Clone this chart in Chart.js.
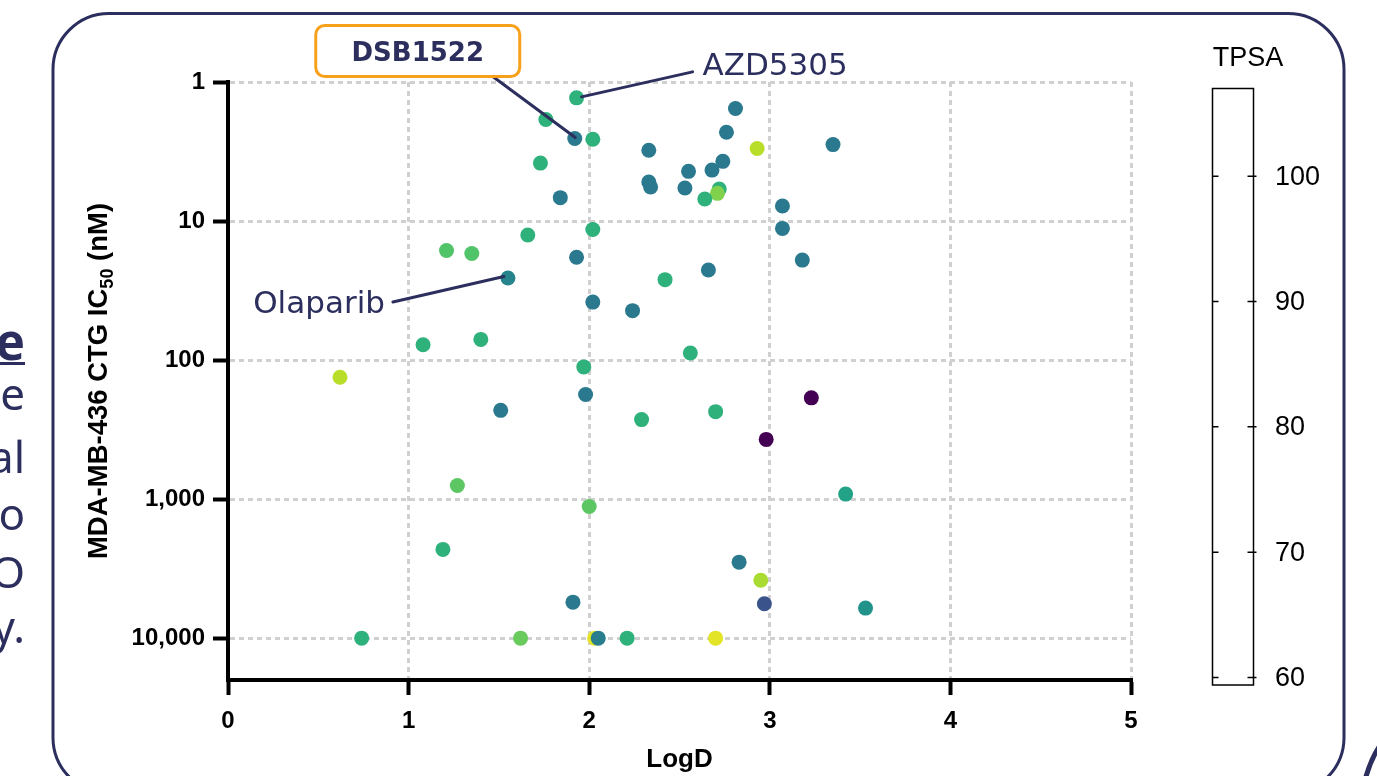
<!DOCTYPE html>
<html>
<head>
<meta charset="utf-8">
<script src="https://cdn.jsdelivr.net/npm/chart.js@4.4.1/dist/chart.umd.min.js"></script>
<style>
  html, body { margin: 0; padding: 0; background: #fff; }
  #wrap { position: relative; width: 1377px; height: 776px; overflow: hidden; }
  #chart { position: absolute; left: 0; top: 0; }
  .side { position: absolute; right: 1352px; white-space: nowrap; color: #2c2f5e;
          font-family: "Noto Sans", sans-serif; font-size: 44px; line-height: 44px; }
  .side.head { font-weight: bold; font-size: 50px; line-height: 50px; text-decoration: underline;
               text-decoration-thickness: 3px; text-underline-offset: 2px; }
</style>
</head>
<body>
<div id="wrap">
  <canvas id="chart" width="1377" height="776"></canvas>
  <div class="side head" style="top:316px">le</div>
  <div class="side" style="top:371px">e</div>
  <div class="side" style="top:434px">al</div>
  <div class="side" style="top:491px">o</div>
  <div class="side" style="top:549px">O</div>
  <div class="side" style="top:604px">y.</div>
</div>
<script>
// values
const logD = [1.93, 1.76, 1.92, 2.02, 2.33, 2.81, 2.76, 2.93, 3.35, 1.73,
              2.55, 2.68, 2.74, 2.33, 2.34, 2.53, 2.72, 2.71, 2.64, 1.84,
              3.07, 3.07, 2.02, 1.66, 1.93, 1.55, 3.18, 2.66, 2.42, 2.02,
              2.24, 1.21, 1.35, 1.08, 1.40, 1.97, 2.56, 1.98, 1.51, 2.29,
              2.70, 3.23, 2.98, 0.62, 1.27, 2.00, 1.19, 1.91, 0.74, 1.62,
              2.03, 2.05, 2.21, 3.42, 2.83, 2.95, 2.97, 3.53, 2.70];
const ic50 = [1.30, 1.86, 2.55, 2.58, 3.10, 1.55, 2.30, 3.01, 2.82, 3.83,
              4.39, 4.30, 3.72, 5.24, 5.69, 5.79, 5.89, 6.32, 6.95, 6.79,
              7.80, 11.3, 11.5, 12.6, 18.2, 25.7, 19.1, 22.5, 26.4, 38.3,
              44.1, 16.3, 17.1, 77.5, 71.0, 112, 89, 177, 230, 268,
              235, 187, 372, 133, 798, 1130, 2300, 5510, 10000, 10000,
              10000, 10000, 10000, 920, 2840, 3830, 5660, 6080, 10000];
const tpsa = [90, 90, 79, 90, 79, 79, 79, 102, 79, 90,
              79, 79, 79, 79, 79, 79, 90, 98, 90, 79,
              79, 79, 90, 90, 79, 81, 79, 79, 90, 79,
              79, 94, 94, 90, 90, 90, 90, 79, 79, 90,
              90, 60, 60, 102, 95, 95, 90, 79, 90, 96,
              105, 80, 90, 87, 79, 101, 72, 84, 105];
const yTicks = [1, 10, 100, 1000, 10000];
const tpsaTicks = [60, 70, 80, 90, 100];
const tpsaRange = [59.4, 107];

const navy = '#2c2f5e';

const viridis = ['#440154', '#482475', '#414487', '#355f8d', '#2a788e', '#21918c',
                 '#22a884', '#44bf70', '#7ad151', '#bddf26', '#fde725'];
function hexRgb(h) { return [1, 3, 5].map(i => parseInt(h.substr(i, 2), 16)); }
function viridisColor(v) {
  let t = (v - 60) / (107 - 60);
  t = Math.max(0, Math.min(1, t)) * 10;
  const i = Math.min(9, Math.floor(t));
  const f = t - i;
  const a = hexRgb(viridis[i]), b = hexRgb(viridis[i + 1]);
  const c = a.map((x, k) => Math.round(x + (b[k] - x) * f));
  return `rgb(${c[0]},${c[1]},${c[2]})`;
}

const tickFont = { family: '"Liberation Sans", Arial, sans-serif', size: 24, weight: 'bold' };

function roundedPath(ctx, x, y, w, h, r) {
  ctx.beginPath();
  ctx.moveTo(x + r, y);
  ctx.arcTo(x + w, y, x + w, y + h, r);
  ctx.arcTo(x + w, y + h, x, y + h, r);
  ctx.arcTo(x, y + h, x, y, r);
  ctx.arcTo(x, y, x + w, y, r);
  ctx.closePath();
}

const framePlugin = {
  id: 'frame',
  beforeDraw(chart) {
    const ctx = chart.ctx;
    ctx.save();
    ctx.fillStyle = '#fff';
    ctx.fillRect(0, 0, chart.width, chart.height);
    ctx.strokeStyle = navy;
    ctx.lineWidth = 3;
    roundedPath(ctx, 53, 13.5, 1291, 780, 56);
    ctx.stroke();
    // corner of the next panel
    ctx.lineWidth = 5;
    ctx.beginPath();
    ctx.moveTo(1381, 744);
    ctx.quadraticCurveTo(1371, 758, 1365, 780);
    ctx.stroke();
    ctx.restore();
  }
};

const decorPlugin = {
  id: 'decor',
  afterDatasetsDraw(chart) {
    const ctx = chart.ctx;
    const sx = chart.scales.x, sy = chart.scales.y;
    const px = i => ({ x: sx.getPixelForValue(logD[i]), y: sy.getPixelForValue(ic50[i]) });
    ctx.save();
    ctx.strokeStyle = navy;
    ctx.fillStyle = navy;
    ctx.lineWidth = 3;
    ctx.lineCap = 'round';

    // AZD5305
    let p = px(0);
    ctx.beginPath();
    ctx.moveTo(p.x + 5, p.y - 1);
    ctx.lineTo(p.x + 116, p.y - 26);
    ctx.stroke();
    ctx.font = '31px "DejaVu Sans", sans-serif';
    ctx.textAlign = 'left';
    ctx.textBaseline = 'alphabetic';
    ctx.fillText('AZD5305', p.x + 126, p.y - 22.5);

    // DSB1522
    p = px(2);
    ctx.beginPath();
    ctx.moveTo(p.x + 0.5, p.y - 1);
    ctx.lineTo(p.x - 82, p.y - 62);
    ctx.stroke();
    ctx.strokeStyle = '#f7a11a';
    ctx.lineWidth = 3;
    roundedPath(ctx, p.x - 259, p.y - 113, 204, 51, 9);
    ctx.fillStyle = '#fff';
    ctx.fill();
    ctx.stroke();
    ctx.fillStyle = navy;
    ctx.font = 'bold 26px "DejaVu Sans", sans-serif';
    ctx.textAlign = 'center';
    ctx.fillText('DSB1522', p.x - 157, p.y - 78);

    // Olaparib
    p = px(25);
    ctx.strokeStyle = navy;
    ctx.beginPath();
    ctx.moveTo(p.x - 4, p.y - 1.5);
    ctx.lineTo(p.x - 115, p.y + 24);
    ctx.stroke();
    ctx.font = '31px "DejaVu Sans", sans-serif';
    ctx.textAlign = 'right';
    ctx.fillText('Olaparib', p.x - 123, p.y + 35);
    ctx.restore();
  },
  afterDraw(chart) {
    const ctx = chart.ctx;
    const a = chart.chartArea;
    ctx.save();
    ctx.fillStyle = '#000';

    // x title
    ctx.font = 'bold 26px "Liberation Sans", Arial, sans-serif';
    ctx.textAlign = 'center';
    ctx.textBaseline = 'alphabetic';
    ctx.fillText('LogD', (a.left + a.right) / 2, 766.5);

    // y title with subscript
    const parts = [
      ['MDA-MB-436 CTG IC', 'bold 27.5px "Liberation Sans", Arial, sans-serif', 0],
      ['50', 'bold 18px "Liberation Sans", Arial, sans-serif', 6],
      [' (nM)', 'bold 27.5px "Liberation Sans", Arial, sans-serif', 0]
    ];
    let total = 0;
    parts.forEach(pt => { ctx.font = pt[1]; total += ctx.measureText(pt[0]).width; });
    ctx.translate(97, (a.top + a.bottom) / 2);
    ctx.rotate(-Math.PI / 2);
    ctx.textAlign = 'left';
    let cx = -total / 2;
    parts.forEach(pt => {
      ctx.font = pt[1];
      ctx.fillText(pt[0], cx, 10 + pt[2]);
      cx += ctx.measureText(pt[0]).width;
    });
    ctx.setTransform(1, 0, 0, 1, 0, 0);

    // TPSA colour bar
    const top = 88.5, bottom = 685, left = 1212.5, right = 1253.5;
    const ty = v => bottom - (v - tpsaRange[0]) / (tpsaRange[1] - tpsaRange[0]) * (bottom - top);
    ctx.fillStyle = '#fff';
    ctx.fillRect(left, top, right - left, bottom - top);
    ctx.strokeStyle = '#000';
    ctx.lineWidth = 1.5;
    ctx.strokeRect(left, top, right - left, bottom - top);
    ctx.fillStyle = '#000';
    ctx.font = '27px "Liberation Sans", Arial, sans-serif';
    ctx.textBaseline = 'middle';
    ctx.textAlign = 'left';
    tpsaTicks.forEach(v => {
      const y = ty(v);
      ctx.beginPath();
      ctx.moveTo(left, y); ctx.lineTo(left + 6, y);
      ctx.moveTo(right - 6, y); ctx.lineTo(right + 3, y);
      ctx.stroke();
      ctx.fillText(String(v), 1275, y + 1);
    });
    ctx.textAlign = 'center';
    ctx.textBaseline = 'alphabetic';
    ctx.fillText('TPSA', 1248, 66);
    ctx.restore();
  }
};

const ctx = document.getElementById('chart').getContext('2d');
new Chart(ctx, {
  type: 'scatter',
  data: {
    datasets: [{
      data: logD.map((x, i) => ({ x: x, y: ic50[i] })),
      backgroundColor: tpsa.map(viridisColor),
      borderWidth: 0,
      pointRadius: 7.5,
      pointHoverRadius: 7.5
    }]
  },
  options: {
    responsive: false,
    animation: false,
    events: [],
    layout: { padding: { top: 82, right: 246, left: 0, bottom: 0 } },
    plugins: { legend: { display: false }, tooltip: { enabled: false } },
    scales: {
      x: {
        type: 'linear', min: 0, max: 5,
        ticks: { stepSize: 1, color: '#000', font: tickFont, padding: 12 },
        grid: { color: '#d0d0d0', lineWidth: 3, tickColor: '#000', tickWidth: 4, tickLength: 15 },
        border: { color: '#000', width: 4, dash: [5, 4] },
        afterFit: s => { s.height = 96; }
      },
      y: {
        type: 'logarithmic', reverse: true, min: 1, max: 20000,
        afterBuildTicks: s => { s.ticks = yTicks.map(v => ({ value: v })); },
        ticks: { color: '#000', font: tickFont, padding: 8,
                 callback: v => Number(v).toLocaleString('en-US') },
        grid: { color: '#d0d0d0', lineWidth: 3, tickColor: '#000', tickWidth: 4, tickLength: 15 },
        border: { color: '#000', width: 4, dash: [5, 4] },
        afterFit: s => { s.width = 228; }
      }
    }
  },
  plugins: [framePlugin, decorPlugin]
});
</script>
</body>
</html>
